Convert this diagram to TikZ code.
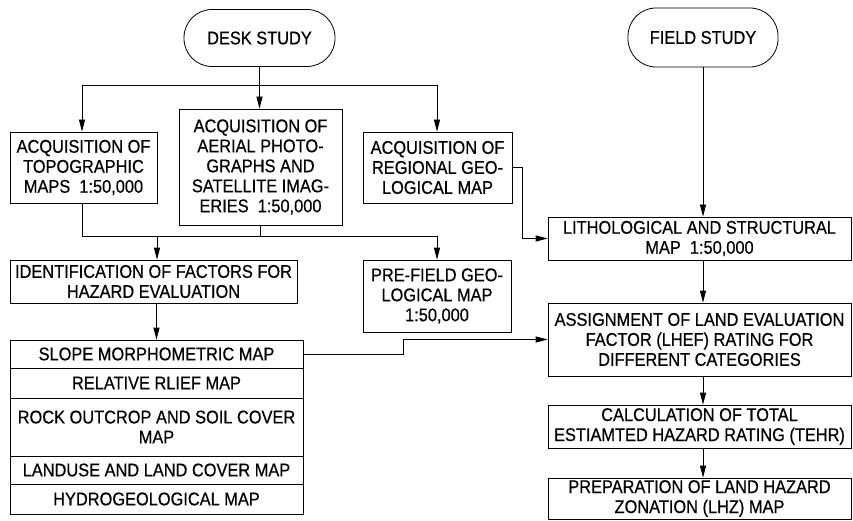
\documentclass[tikz,border=0pt]{standalone}
\usepackage{fontspec}
\setmainfont{Liberation Sans}[FakeStretch=0.89,FakeBold=0.5]
\usetikzlibrary{arrows.meta}
\begin{document}
\begin{tikzpicture}[x=1pt,y=1pt,
 box/.style={draw, line width=0.8pt, align=center, inner sep=0pt, font=\fontsize{18.4}{20}\selectfont},
 wh/.style 2 args={minimum width=#1pt, minimum height=#2pt},
 pill/.style={box, rounded corners=28pt},
 arr/.style={line width=0.8pt, -{Triangle[length=12pt,width=6pt]}},
 ln/.style={line width=0.8pt}]
\useasboundingbox (0,0) rectangle (853,-521);
% top
\node[pill, wh={151}{57}] (desk) at (259.5,-38) {DESK STUDY};
\node[pill, wh={150}{59}] (field) at (703,-37.5) {FIELD STUDY};
% acquisition row
\node[box, wh={147}{71}] (topo) at (83.5,-167.5) {ACQUISITION OF\\TOPOGRAPHIC\\MAPS~~1:50,000};
\node[box, wh={163}{116}] (aerial) at (260.5,-167) {ACQUISITION OF\\AERIAL PHOTO-\\GRAPHS AND\\SATELLITE IMAG-\\ERIES~~1:50,000};
\node[box, wh={149}{71}] (regional) at (437.5,-167.5) {ACQUISITION OF\\REGIONAL GEO-\\LOGICAL MAP};
\node[box, wh={303}{43}] (litho) at (699.5,-238.5) {LITHOLOGICAL AND STRUCTURAL\\MAP~~1:50,000};
% middle
\node[box, wh={287}{43}] (ident) at (153.5,-281.5) {IDENTIFICATION OF FACTORS FOR\\HAZARD EVALUATION};
\node[box, wh={148}{72}] (prefield) at (437,-296) {PRE-FIELD GEO-\\LOGICAL MAP\\1:50,000};
% factor table
\node[box, wh={293}{28}] (slope) at (156.5,-354) {SLOPE MORPHOMETRIC MAP};
\node[box, wh={293}{30}] (relief) at (156.5,-383) {RELATIVE RLIEF MAP};
\node[box, wh={293}{58}] (rock) at (156.5,-427) {ROCK OUTCROP AND SOIL COVER\\MAP};
\node[box, wh={293}{28}] (landuse) at (156.5,-470) {LANDUSE AND LAND COVER MAP};
\node[box, wh={293}{30}] (hydro) at (156.5,-499) {HYDROGEOLOGICAL MAP};
% right column
\node[box, wh={303}{73}] (assign) at (699.5,-339.5) {ASSIGNMENT OF LAND EVALUATION\\FACTOR (LHEF) RATING FOR\\DIFFERENT CATEGORIES};
\node[box, wh={303}{43}] (calc) at (699.5,-426.5) {CALCULATION OF TOTAL\\ESTIAMTED HAZARD RATING (TEHR)};
\node[box, wh={303}{41}] (prep) at (699.5,-498.5) {PREPARATION OF LAND HAZARD\\ZONATION (LHZ) MAP};
% junctions
\coordinate (hl) at (82,-85);
\coordinate (hr) at (437,-85);
\coordinate (j0) at (82,-236);
\coordinate (j1) at (157,-236);
\coordinate (j2) at (437,-236);
% connectors desk study
\draw[ln] (hl) -- (hr);
\draw[arr] (desk.south) -- (aerial.north -| desk.south);
\draw[arr] (hl) -- (hl |- topo.north);
\draw[arr] (hr) -- (hr |- regional.north);
% merging to identification / pre-field
\draw[ln] (j0 |- topo.south) -- (j0) -- (j2);
\draw[ln] (aerial.south -| 260,0) -- (260,-236);
\draw[arr] (j1) -- (j1 |- ident.north);
\draw[arr] (j2) -- (j2 |- prefield.north);
\draw[arr] (regional.east) -- ++(10,0) |- (litho.west);
\draw[arr] (slope.north |- ident.south) -- (slope.north);
\draw[arr] (slope.east) -- ++(100,0) |- (assign.west);
% right column
\draw[arr] (field.south) -- (field.south |- litho.north);
\draw[arr] (litho.south -| field.south) -- (assign.north -| field.south);
\draw[arr] (assign.south -| field.south) -- (calc.north -| field.south);
\draw[arr] (calc.south -| field.south) -- (prep.north -| field.south);
\end{tikzpicture}
\end{document}
